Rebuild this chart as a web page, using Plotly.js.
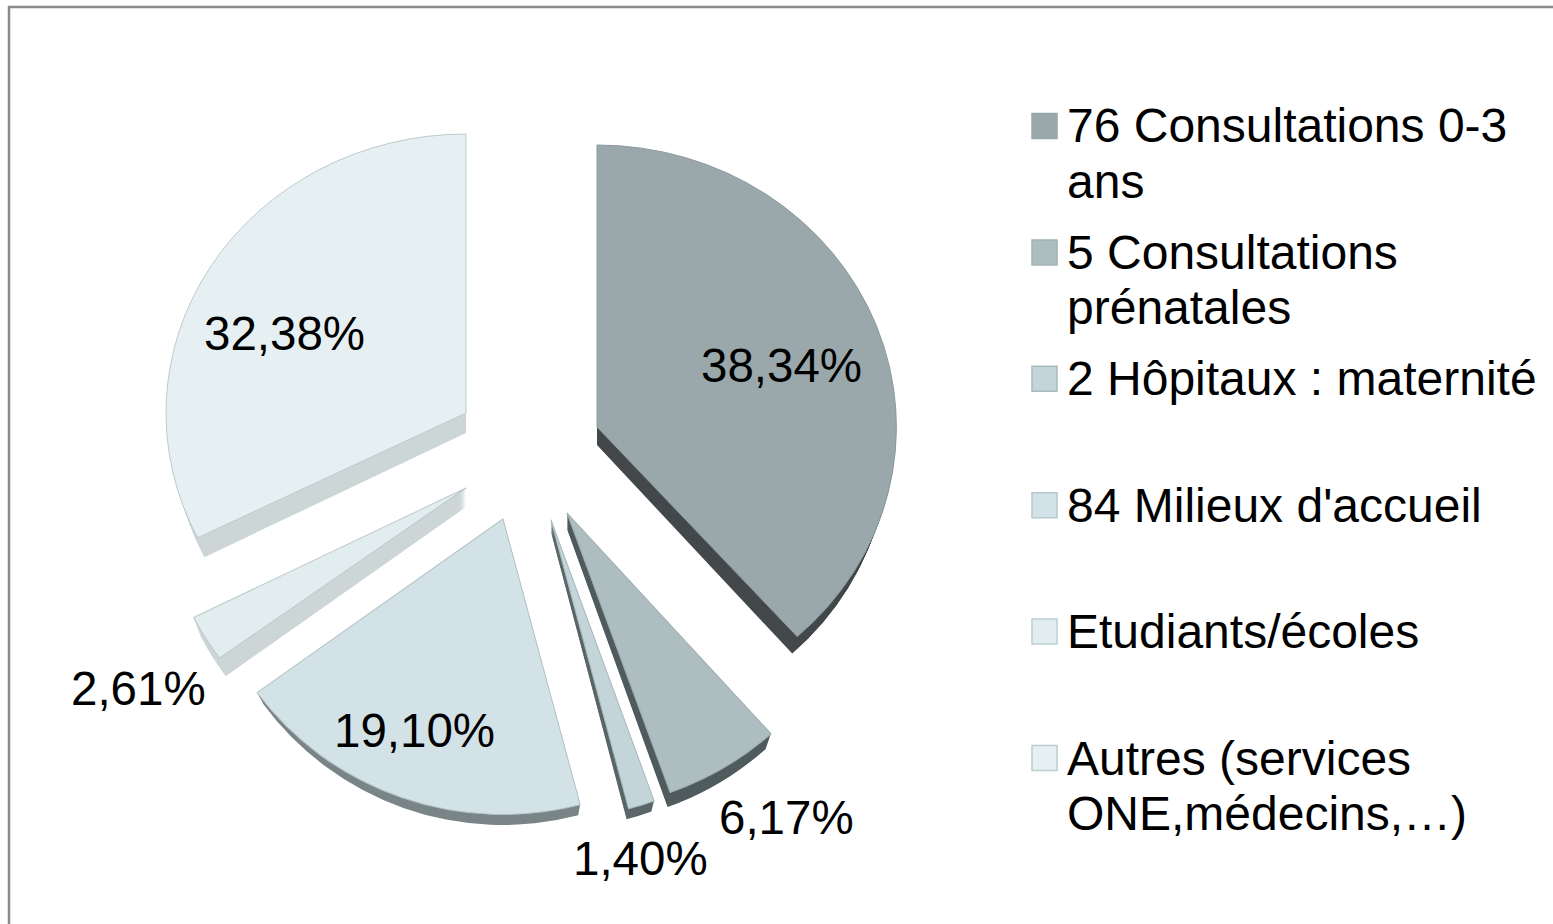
<!DOCTYPE html>
<html><head><meta charset="utf-8">
<script src="https://cdn.plot.ly/plotly-3.0.1.min.js"></script>
<style>html,body{margin:0;padding:0;background:#fff;overflow:hidden}#c{width:1553px;height:924px}</style>
</head><body><div id="c"></div>
<script>
const categories = ["76 Consultations 0-3 ans","5 Consultations prénatales","2 Hôpitaux : maternité","84 Milieux d'accueil","Etudiants/écoles","Autres (services ONE,médecins,…)"];
const legendLines = [["76 Consultations 0-3","ans"],["5 Consultations","prénatales"],["2 Hôpitaux : maternité"],["84 Milieux d'accueil"],["Etudiants/écoles"],["Autres (services","ONE,médecins,…)"]];
const values = [38.34,6.17,1.40,19.10,2.61,32.38];
const pulls = [0.27,0.28,0.30,0.22,0.23,0.23];
const topColors = ["#9AA8AB","#ADBDC0","#C4D5DA","#D2E2E7","#E2EDEF","#E6F0F2"];
const sideColors = ["#44494B","#505C5E","#5A6668","#7A8587","#CDD6D7","#CDD6D7"];
const edgeColors = ["#8A979A","#9DAEB1","#A9BABE","#B4C3C7","#BCC8CA","#BCC8CA"];
const legendBorders = ["#9AA8AB","#A3B2B5","#A9BABE","#B4C9CF","#BCCFD3","#BCCCCF"];
const depths = [18,16,12,12,19,20];
const tips = [[597,427],[567,513],[551,520],[503,519],[466,488],[466,413]];
const scaleX = [0.998,1.017,1.017,1.013,1.015,1.0];
const scaleY = [0.94,0.99,0.995,0.985,0.965,0.93];
const labelPos = [[782,365],[786,817],[640,858],[414,730],[138,688],[284,333]];

const W=1553,H=924,CX=521,CY=450,HALF=390;
const px=x=>x/W, py=y=>1-y/H;
const fmt=v=>v.toFixed(2).replace('.',',')+'%';
const LABEL_FONT={family:'"Liberation Sans",Arial,sans-serif',size:47.5,color:'#000'};
const LEGEND_FONT={family:'"Liberation Sans",Arial,sans-serif',size:48,color:'#000'};
const maxDepth=Math.max(...depths);
const layers=[];
for(let k=maxDepth;k>=0;k--) layers.push(k);
const traces=layers.map(k=>({
  type:'pie',labels:categories,values:values,sort:false,direction:'clockwise',rotation:0,
  pull:pulls,textinfo:'none',hoverinfo:'skip',showlegend:false,
  domain:{x:[px(CX-HALF),px(CX+HALF)],y:[py(CY+HALF),py(CY-HALF)]},
  marker:k===0?{colors:topColors,line:{color:edgeColors,width:1}}
    :{colors:sideColors.map((c,i)=>k<=depths[i]?c:'rgba(0,0,0,0)'),line:{width:0}}
}));
const annotations=[];
values.forEach((v,i)=>annotations.push({xref:'paper',yref:'paper',x:px(labelPos[i][0]),y:py(labelPos[i][1]),text:fmt(v),showarrow:false,xanchor:'center',yanchor:'middle',font:LABEL_FONT}));
const shapes=[{type:'rect',xref:'paper',yref:'paper',x0:px(9),x1:px(1700),y0:py(7),y1:py(1100),line:{color:'#8A8A8A',width:2.5},fillcolor:'rgba(0,0,0,0)'}];
legendLines.forEach((lines,i)=>{
  const y0=126+i*126.4;
  shapes.push({type:'rect',xref:'paper',yref:'paper',x0:px(1032),x1:px(1057),y0:py(y0-12.5),y1:py(y0+12.5),fillcolor:topColors[i],line:{color:legendBorders[i],width:1.5}});
  lines.forEach((t,j)=>annotations.push({xref:'paper',yref:'paper',x:px(1068),y:py(y0+j*55.5),text:t,showarrow:false,xanchor:'left',yanchor:'middle',xshift:-3,font:LEGEND_FONT}));
});
Plotly.newPlot('c',traces,{width:W,height:H,margin:{l:0,r:0,t:0,b:0,pad:0},paper_bgcolor:'#fff',showlegend:false,annotations,shapes},{displayModeBar:false,staticPlot:true}).then(()=>{
  const total=values.reduce((a,b)=>a+b,0), R=HALF/(1+Math.max(...pulls));
  let cum=0;
  const anchors=values.map((v,i)=>{
    const mid=(cum+v/2)/total*2*Math.PI; cum+=v;
    return [CX+pulls[i]*R*Math.sin(mid), CY-pulls[i]*R*Math.cos(mid)];
  });
  document.querySelectorAll('.pielayer .trace').forEach((tr,t)=>{
    const k=layers[t];
    tr.querySelectorAll('g.slice').forEach((g,i)=>{
      const f=Math.min(1,k/depths[i]);
      const sx=scaleX[i]*(1-0.025*f), sy=scaleY[i]*(1-0.005*f);
      g.setAttribute('transform',`translate(${tips[i][0]},${tips[i][1]+k}) scale(${sx},${sy}) translate(${-anchors[i][0]},${-anchors[i][1]})`);
    });
  });
});
</script></body></html>
